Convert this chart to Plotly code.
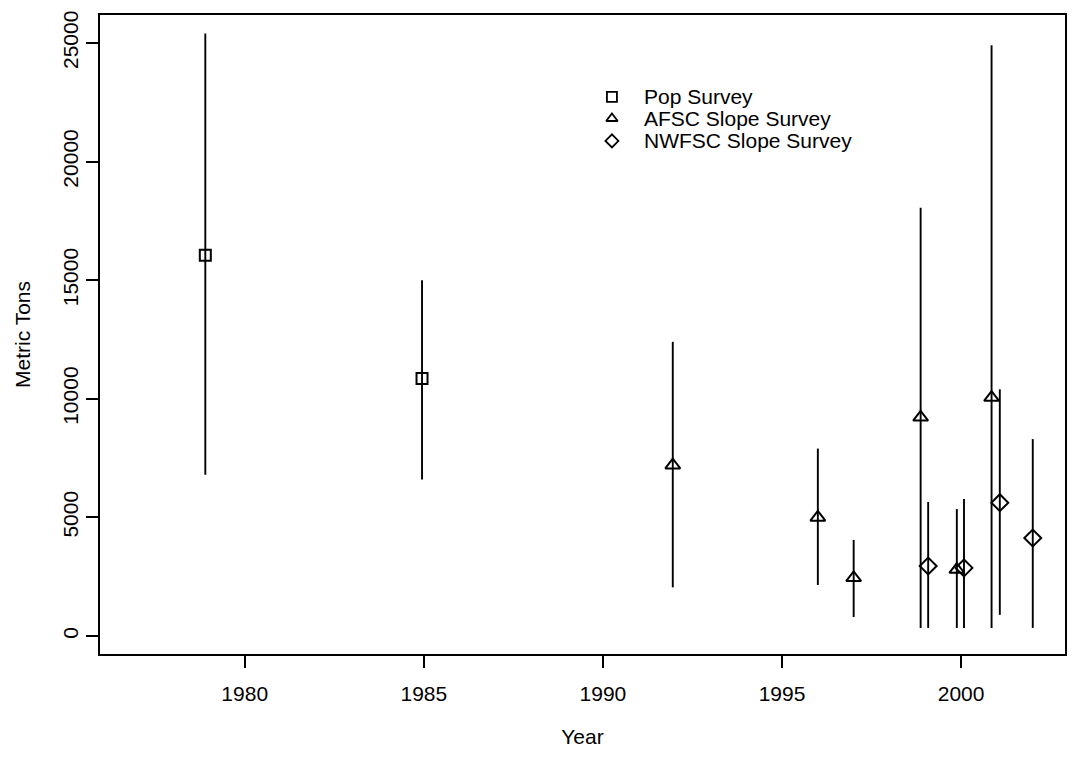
import plotly.graph_objects as go

# Survey biomass estimates (metric tons) with interval bounds
pop_year = [1978.9, 1984.95]
pop_val = [16050, 10850]
pop_lo = [6800, 6600]
pop_hi = [25400, 15000]

afsc_year = [1991.95, 1996.0, 1997.0, 1998.87, 1999.88, 2000.85]
afsc_val = [7200, 5000, 2450, 9220, 2800, 10050]
afsc_lo = [2050, 2150, 800, 340, 340, 340]
afsc_hi = [12400, 7900, 4050, 18050, 5350, 24900]

nwfsc_year = [1999.08, 2000.08, 2001.08, 2002.0]
nwfsc_val = [2950, 2870, 5620, 4130]
nwfsc_lo = [340, 340, 890, 340]
nwfsc_hi = [5650, 5780, 10400, 8300]

series_names = ["Pop Survey", "AFSC Slope Survey", "NWFSC Slope Survey"]
series_symbols = ["square-open", "triangle-up-open", "diamond-open"]

x_ticks = [1980, 1985, 1990, 1995, 2000]
y_ticks = [0, 5000, 10000, 15000, 20000, 25000]

FONT = "Liberation Sans, Arial, sans-serif"

fig = go.Figure()

series = [
    (pop_year, pop_val, pop_lo, pop_hi, 11),
    (afsc_year, afsc_val, afsc_lo, afsc_hi, 13),
    (nwfsc_year, nwfsc_val, nwfsc_lo, nwfsc_hi, 13),
]
for (xs, vs, lo, hi, msize), name, sym in zip(series, series_names, series_symbols):
    fig.add_trace(go.Scatter(
        x=xs, y=vs, mode="markers", name=name, showlegend=False,
        marker=dict(symbol=sym, size=msize, color="black",
                    line=dict(color="black", width=2)),
        error_y=dict(type="data", symmetric=False,
                     array=[h - v for h, v in zip(hi, vs)],
                     arrayminus=[v - l for v, l in zip(vs, lo)],
                     width=0, thickness=1.9, color="black"),
    ))

# Key drawn on a hidden overlay axis in unit coordinates
key_x = 0.5305
key_text_x = 0.562
key_rows = [0.872, 0.838, 0.803]
for name, sym, ky in zip(series_names, series_symbols, key_rows):
    fig.add_trace(go.Scatter(
        x=[key_x], y=[ky], mode="markers", xaxis="x2", yaxis="y2",
        showlegend=False, hoverinfo="skip",
        marker=dict(symbol=sym, size=10, color="black",
                    line=dict(color="black", width=1.8)),
    ))
    fig.add_annotation(x=key_text_x, y=ky, xref="x2", yref="y2", text=name,
                       showarrow=False, xanchor="left", yanchor="middle",
                       font=dict(family=FONT, size=21, color="black"))

axis_common = dict(
    showline=True, linecolor="black", linewidth=2, mirror=True,
    showgrid=False, zeroline=False, ticks="outside", ticklen=12,
    tickwidth=1.5, tickcolor="black",
    tickfont=dict(family=FONT, size=21, color="black"),
)

fig.update_layout(
    width=1078, height=757,
    margin=dict(l=100, r=11, t=15, b=103),
    paper_bgcolor="white", plot_bgcolor="white",
    showlegend=False,
    xaxis=dict(range=[1975.96, 2002.9], tickvals=x_ticks,
               ticktext=[str(v) for v in x_ticks], ticklabelstandoff=8,
               title=dict(text="Year", standoff=25,
                          font=dict(family=FONT, size=21, color="black")),
               **axis_common),
    yaxis=dict(range=[-760, 26180], tickvals=y_ticks,
               ticktext=[str(v) for v in y_ticks], tickangle=-90,
               title=dict(text="Metric Tons", standoff=22,
                          font=dict(family=FONT, size=21, color="black")),
               **axis_common),
    xaxis2=dict(range=[0, 1], overlaying="x", visible=False),
    yaxis2=dict(range=[0, 1], overlaying="y", visible=False),
)

fig.write_html("out.html")
